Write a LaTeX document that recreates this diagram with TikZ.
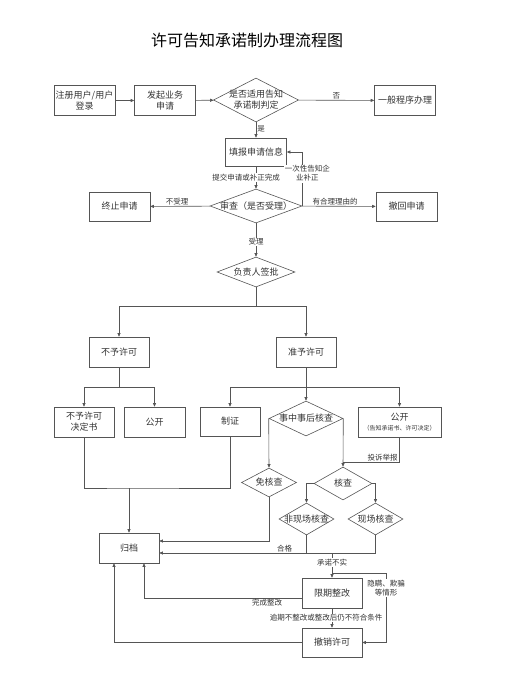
\documentclass[tikz,border=0pt]{standalone}
\usepackage{fontspec}
\setmainfont{Noto Sans CJK SC}
\usetikzlibrary{arrows.meta,shapes.geometric}
\definecolor{linec}{RGB}{85,85,85}
\definecolor{txtc}{RGB}{51,51,51}
\begin{document}
\begin{tikzpicture}[x=1pt,y=-1pt,line width=0.6pt,draw=linec,
   >={Triangle[length=3.5pt,width=3pt]},
   box/.style={draw=linec,rectangle,minimum width=61pt,minimum height=30pt,inner sep=1pt,
      align=center,text=txtc,font=\fontsize{9}{11}\selectfont},
   dia/.style={draw=linec,diamond,inner sep=0pt,
      label={[text=txtc,align=center,font=\fontsize{9}{11}\selectfont]center:#1}},
   lab/.style={text=txtc,font=\fontsize{7.5}{9}\selectfont,inner sep=1pt,align=center}]
   \useasboundingbox (0,0) rectangle (521,674);

   \node[font=\fontsize{16}{18}\selectfont] (title) at (247,40) {许可告知承诺制办理流程图};

   \node[box] (reg)    at (84.5,100.5) {注册用户/用户\\登录};
   \node[box] (apply)  at (165,100.5)  {发起业务\\申请};
   \node[dia={是否适用告知\\承诺制判定},minimum width=85pt,minimum height=44pt] (judge) at (256,100) {};
   \node[box] (normal) at (405,100.5)  {一般程序办理};
   \node[box,minimum height=28pt] (fill) at (256,152) {填报申请信息};
   \node[dia={审查（是否受理）},minimum width=92pt,minimum height=34pt] (review) at (256,206) {};
   \node[box,minimum height=29pt] (stop)     at (119.5,206.5) {终止申请};
   \node[box,minimum height=29pt] (withdraw) at (406.5,206.5) {撤回申请};
   \node[dia={负责人签批},minimum width=78pt,minimum height=30pt] (sign) at (256,272) {};

   \node[box,minimum width=60pt] (deny)  at (119,352) {不予许可};
   \node[box,minimum width=60pt] (grant) at (306,352) {准予许可};
   \node[box,minimum width=60pt] (denydoc) at (84,422) {不予许可\\决定书};
   \node[box] (pubA) at (154.5,422) {公开};
   \node[box,minimum width=60pt,minimum height=29pt] (cert) at (230,421.5) {制证};
   \node[dia={事中事后核查},minimum width=74pt,minimum height=35pt] (super) at (306,418.5) {};
   \node[box,minimum width=83pt] (pubB) at (399.5,422)
      {公开\\[-1pt]{\fontsize{6}{7}\selectfont （告知承诺书、许可决定）}};

   \node[dia={免核查},minimum width=55pt,minimum height=29pt] (exempt) at (269,482.5) {};
   \node[dia={核查},minimum width=58pt,minimum height=33pt] (verify) at (343,483.5) {};
   \node[dia={非现场核查},minimum width=55pt,minimum height=32pt] (offsite) at (306.5,519) {};
   \node[dia={现场核查},minimum width=55pt,minimum height=32pt] (onsite) at (375.5,519) {};

   \node[box,minimum width=60pt] (archive) at (129,548) {归档};
   \node[box,minimum width=60pt] (rectify) at (332,593) {限期整改};
   \node[box,minimum width=60pt,minimum height=29pt] (revoke) at (332,642.5) {撤销许可};

   \coordinate (splitA) at (256,306);
   \coordinate (splitB) at (119,387);
   \coordinate (splitC) at (306,387);
   \coordinate (joinA)  at (129,488);
   \coordinate (report) at (343,462);
   \coordinate (fail)   at (332,553);
   \coordinate (lie)    at (332,573);

   \draw[->] (reg) -- (apply);
   \draw[->] (apply) -- (judge);
   \draw[->] (judge) -- node[lab,above] {否} (normal);
   \draw[->] (judge) -- node[lab,right,pos=0.4] {是} (fill);
   \draw[->] (fill) -- node[lab,fill=white,xshift=-10pt] {提交申请或补正完成} (review);
   \draw[->] (review.east) |- node[lab,fill=white,pos=0.3,xshift=5pt] {一次性告知企\\业补正} (fill.east);
   \draw[->] (review) -- node[lab,above,pos=0.55] {不受理} (stop);
   \draw[->] (review) -- node[lab,above,pos=0.45] {有合理理由的} (withdraw);
   \draw[->] (review) -- node[lab,fill=white,pos=0.56] {受理} (sign);

   \draw (sign.south) -- (splitA);
   \draw[->] (splitA) -| (deny.north);
   \draw[->] (splitA) -| (grant.north);
   \draw (deny.south) -- (splitB);
   \draw[->] (splitB) -| (denydoc.north);
   \draw[->] (splitB) -| (pubA.north);
   \draw[->] (grant.south) -- (super.north);
   \draw[->] (splitC) -| (cert.north);
   \draw[->] (splitC) -| (pubB.north);

   \draw (denydoc.south) |- (joinA) -| (cert.south);
   \draw[->] (joinA) -- (archive.north);
   \draw[->] (super.west) -- (exempt.north);
   \draw[->] (super.east) -- (verify.north);
   \draw (pubB.south) |- node[lab,above,pos=0.65] {投诉举报} (report);
   \draw[->] (verify.west) -| (offsite.north);
   \draw[->] (verify.east) -| (onsite.north);

   \draw[->] (exempt.south) |- ([yshift=7pt]archive.east);
   \draw (offsite.south) -- (offsite.south |- fail);
   \draw[->] (onsite.south) |- node[lab,above,pos=0.71] {合格} ([yshift=-5pt]archive.east);
   \draw[->] (fail) -- node[lab,fill=white,pos=0.4] {承诺不实} (rectify.north);
   \draw[->] (lie) -- ++(54,0) |- node[lab,fill=white,pos=0.11] {隐瞒、欺骗\\等情形} (revoke.east);
   \draw[->] (rectify) -- node[lab,fill=white,xshift=-6pt] {逾期不整改或整改后仍不符合条件} (revoke);
   \draw[->] ([yshift=-5pt]rectify.west) -| node[lab,below,pos=0.11] {完成整改} ([xshift=15pt]archive.south);
   \draw[->] (revoke.west) -| ([xshift=-15pt]archive.south);
\end{tikzpicture}
\end{document}
